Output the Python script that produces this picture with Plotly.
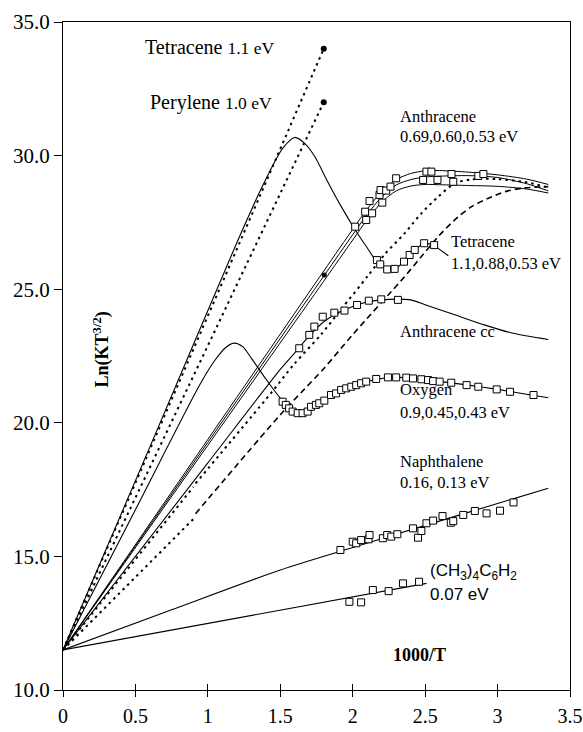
import plotly.graph_objects as go

# ---------------- data ----------------
tet_line_x = [0.0, 1.8]
tet_line_y = [11.5, 34.0]
per_line_x = [0.0, 1.8]
per_line_y = [11.5, 32.0]

tet_curve_x = [0.0, 0.6, 1.2, 1.35, 1.45, 1.52, 1.6, 1.67, 1.74, 1.82, 1.92, 2.02, 2.1, 2.17, 2.23, 2.29, 2.35, 2.42, 2.49, 2.56]
tet_curve_y = [11.5, 19.1, 26.74, 28.55, 29.65, 30.3, 30.68, 30.45, 29.95, 29.1, 28.1, 27.2, 26.55, 26.0, 25.75, 25.74, 26.02, 26.42, 26.7, 26.66]
tet_sq_x = [2.167, 2.19, 2.238, 2.289, 2.354, 2.393, 2.428, 2.493, 2.562]
tet_sq_y = [26.09, 25.93, 25.74, 25.76, 26.03, 26.28, 26.47, 26.72, 26.65]
tet_leader_x = [2.566, 2.66]
tet_leader_y = [26.62, 26.25]

anth_x = [0.0, 1.0, 1.8, 2.0, 2.1, 2.2, 2.3, 2.4, 2.5, 2.6, 2.8, 3.0, 3.2, 3.35]
anth1_y = [11.5, 19.38, 25.68, 27.24, 28.0, 28.65, 29.1, 29.33, 29.43, 29.44, 29.38, 29.28, 29.12, 28.92]
anth2_y = [11.5, 19.27, 25.49, 27.04, 27.80, 28.45, 28.90, 29.10, 29.20, 29.23, 29.25, 29.18, 28.95, 28.68]
anth3_y = [11.5, 19.16, 25.30, 26.84, 27.60, 28.25, 28.68, 28.86, 28.92, 28.91, 28.88, 28.85, 28.75, 28.60]
anth_sq_x = [2.017, 2.093, 2.086, 2.134, 2.116, 2.204, 2.185, 2.192, 2.231, 2.261, 2.30, 2.486, 2.509, 2.543, 2.585, 2.682, 2.694, 2.867, 2.902]
anth_sq_y = [27.34, 27.59, 27.90, 27.84, 28.30, 28.24, 28.53, 28.71, 28.69, 28.84, 29.15, 29.09, 29.40, 29.40, 29.09, 29.31, 29.02, 29.24, 29.31]
anth_dot_x = [1.804]
anth_dot_y = [25.53]

cc_x = [0.0, 1.0, 1.5, 1.6, 1.7, 1.8, 1.9, 2.0, 2.1, 2.2, 2.3, 2.4, 2.5, 2.7, 2.9, 3.1, 3.35]
cc_y = [11.5, 18.5, 22.0, 22.62, 23.25, 23.78, 24.12, 24.35, 24.52, 24.6, 24.63, 24.6, 24.42, 24.05, 23.68, 23.36, 23.12]
cc_sq_x = [1.631, 1.70, 1.735, 1.793, 1.873, 1.943, 2.03, 2.111, 2.197, 2.312]
cc_sq_y = [22.79, 23.29, 23.60, 23.97, 24.12, 24.20, 24.41, 24.57, 24.62, 24.60]

oxy_x = [0.0, 0.5, 0.95, 1.05, 1.12, 1.18, 1.24, 1.3, 1.39, 1.5, 1.56, 1.62, 1.67, 1.72, 1.8, 1.9, 2.0, 2.1, 2.2, 2.3, 2.4, 2.5, 2.6, 2.8, 3.0, 3.2, 3.35]
oxy_y = [11.5, 16.75, 21.48, 22.35, 22.8, 22.98, 22.85, 22.42, 21.72, 20.92, 20.6, 20.4, 20.37, 20.48, 20.82, 21.14, 21.37, 21.54, 21.66, 21.7, 21.68, 21.62, 21.55, 21.41, 21.25, 21.07, 20.94]
oxy_sq_x = [1.516, 1.538, 1.561, 1.585, 1.620, 1.654, 1.689, 1.712, 1.746, 1.769, 1.804, 1.850, 1.885, 1.920, 1.955, 1.990, 2.024, 2.058, 2.093,
            2.162, 2.243, 2.30, 2.37, 2.416, 2.474, 2.52, 2.555, 2.60, 2.68, 2.786, 2.867, 2.994, 3.086, 3.248]
oxy_sq_y = [20.79, 20.67, 20.54, 20.42, 20.36, 20.36, 20.42, 20.60, 20.67, 20.73, 20.83, 21.04, 21.10, 21.23, 21.29, 21.35, 21.41, 21.48, 21.54,
            21.64, 21.70, 21.70, 21.69, 21.66, 21.63, 21.60, 21.56, 21.54, 21.50, 21.41, 21.35, 21.25, 21.16, 21.04]

# model curves: dotted extrapolation from the origin, then the fitted part
d3a_x = [0.0, 0.9]
d3a_y = [11.5, 17.6]
d3_x = [0.915, 1.434, 1.596, 1.781, 1.92, 2.105, 2.22, 2.358, 2.474, 2.59, 2.705, 2.82, 3.0, 3.2, 3.35]
d3_y = [17.73, 21.1, 22.2, 23.3, 24.25, 25.5, 26.3, 27.09, 27.84, 28.46, 28.96, 29.11, 29.12, 29.0, 28.8]
d2a_x = [0.0, 0.9]
d2a_y = [11.5, 16.4]
d2_x = [0.915, 1.5, 1.665, 1.804, 2.0, 2.358, 2.474, 2.59, 2.728, 2.82, 2.936, 3.05, 3.167, 3.35]
d2_y = [16.6, 20.3, 21.25, 22.05, 23.3, 25.47, 26.22, 26.97, 27.71, 28.09, 28.40, 28.65, 28.78, 28.84]

nap_x = [0.0, 0.75, 1.5, 2.0, 2.5, 3.0, 3.35]
nap_y = [11.5, 13.0, 14.49, 15.33, 16.16, 16.98, 17.55]
nap_sq_x = [1.915, 2.0, 2.024, 2.058, 2.109, 2.116, 2.208, 2.238, 2.266, 2.308, 2.416, 2.451, 2.474, 2.509, 2.555, 2.62, 2.677, 2.694, 2.763, 2.843, 2.924, 3.017, 3.11]
nap_sq_y = [15.24, 15.55, 15.49, 15.61, 15.64, 15.80, 15.68, 15.80, 15.74, 15.83, 16.05, 15.70, 15.95, 16.24, 16.34, 16.51, 16.26, 16.32, 16.55, 16.70, 16.61, 16.71, 17.02]

tmb_x = [0.0, 2.509]
tmb_y = [11.5, 13.99]
tmb_sq_x = [1.977, 2.058, 2.139, 2.248, 2.347, 2.458]
tmb_sq_y = [13.30, 13.28, 13.74, 13.70, 13.99, 14.05]

x_ticks = [0, 0.5, 1, 1.5, 2, 2.5, 3, 3.5]
x_ticklabels = ["0", "0.5", "1", "1.5", "2", "2.5", "3", "3.5"]
y_ticks = [10, 15, 20, 25, 30, 35]
y_ticklabels = ["10.0", "15.0", "20.0", "25.0", "30.0", "35.0"]

# ---------------- figure ----------------
SERIF = "Liberation Serif"
SANS = "Liberation Sans"
fig = go.Figure()

def line(x, y, dash="solid", width=1.1, shape="spline"):
    ln = dict(color="black", width=width, dash=dash, shape=shape)
    if shape == "spline":
        ln["smoothing"] = 0.8
    fig.add_trace(go.Scatter(x=x, y=y, mode="lines", line=ln, hoverinfo="skip", showlegend=False))

def squares(x, y):
    fig.add_trace(go.Scatter(x=x, y=y, mode="markers",
                             marker=dict(symbol="square", size=7, color="white", line=dict(color="black", width=1)),
                             showlegend=False))

DOT = "2.5px,4px"
DASH = "6px,4px"

line(tet_line_x, tet_line_y, dash=DOT, width=2, shape="linear")
line(per_line_x, per_line_y, dash=DOT, width=2, shape="linear")
fig.add_trace(go.Scatter(x=[tet_line_x[-1], per_line_x[-1]], y=[tet_line_y[-1], per_line_y[-1]], mode="markers",
                         marker=dict(symbol="circle", size=6, color="black"), showlegend=False))

line(d3a_x, d3a_y, dash=DOT, width=2, shape="linear")
line(d3_x, d3_y, dash=DOT, width=2)
line(d2a_x, d2a_y, dash=DOT, width=2, shape="linear")
line(d2_x, d2_y, dash=DASH, width=1.6)

line(anth_x, anth1_y, width=1)
line(anth_x, anth2_y, width=1)
line(anth_x, anth3_y, width=1)
line(tet_curve_x, tet_curve_y)
line(cc_x, cc_y)
line(oxy_x, oxy_y)
line(nap_x, nap_y)
line(tmb_x, tmb_y, shape="linear")
line(tet_leader_x, tet_leader_y, shape="linear")

squares(anth_sq_x, anth_sq_y)
squares(tet_sq_x, tet_sq_y)
squares(cc_sq_x, cc_sq_y)
squares(oxy_sq_x, oxy_sq_y)
squares(nap_sq_x, nap_sq_y)
squares(tmb_sq_x, tmb_sq_y)
fig.add_trace(go.Scatter(x=anth_dot_x, y=anth_dot_y, mode="markers",
                         marker=dict(symbol="circle", size=5, color="black"), showlegend=False))

# ---------------- annotations ----------------
def txt(x, y, s, size=16.5, font=SERIF, xanchor="left", **kw):
    fig.add_annotation(x=x, y=y, text=s, showarrow=False, xanchor=xanchor, yanchor="middle",
                       font=dict(family=font, size=size, color="black"), **kw)

txt(0.554, 34.06, "Tetracene <span style='font-size:17.5px'>1.1 eV</span>", size=20)
txt(0.589, 31.97, "Perylene <span style='font-size:17.5px'>1.0 eV</span>", size=20)
txt(2.315, 31.48, "Anthracene")
txt(2.315, 30.70, "0.69,0.60,0.53 eV")
txt(2.668, 26.80, "Tetracene")
txt(2.668, 25.98, "1.1,0.88,0.53 eV")
txt(2.315, 23.40, "Anthracene cc")
txt(2.315, 21.23, "Oxygen")
txt(2.315, 20.37, "0.9,0.45,0.43 eV")
txt(2.315, 18.57, "Naphthalene")
txt(2.315, 17.75, "0.16, 0.13 eV")
txt(2.52, 14.42, "(CH<sub>3</sub>)<sub>4</sub>C<sub>6</sub>H<sub>2</sub>", size=17, font=SANS)
txt(2.52, 13.59, "0.07 eV", size=17, font=SANS)
txt(2.46, 11.3, "<b>1000/T</b>", size=18, xanchor="center")
fig.add_annotation(x=0.27, y=22.75, text="<b>Ln(KT<sup>3/2</sup>)</b>", showarrow=False, textangle=-90,
                   font=dict(family=SERIF, size=18, color="black"))

fig.update_layout(
    width=583, height=732,
    margin=dict(l=63, r=13, t=22, b=42, autoexpand=False),
    paper_bgcolor="white", plot_bgcolor="white",
    showlegend=False,
    xaxis=dict(range=[0, 3.5], tickvals=x_ticks, ticktext=x_ticklabels, ticks="outside", ticklen=6,
               tickcolor="black", showline=True, linecolor="black", linewidth=1.3, mirror=True,
               showgrid=False, zeroline=False, ticklabelstandoff=2, automargin=False,
               ticklabeloverflow="allow",
               tickfont=dict(family=SERIF, size=20, color="black")),
    xaxis2=dict(range=[0, 3.5], tickvals=x_ticks, ticks="inside", ticklen=6, tickcolor="black",
                showticklabels=False, overlaying="x", anchor="y", side="bottom", showgrid=False,
                zeroline=False, automargin=False),
    yaxis=dict(range=[10, 35], tickvals=y_ticks, ticktext=y_ticklabels, ticks="outside", ticklen=8,
               tickcolor="black", showline=True, linecolor="black", linewidth=1.3, mirror=True,
               showgrid=False, zeroline=False, automargin=False, ticklabeloverflow="allow",
               tickfont=dict(family=SERIF, size=21, color="black")),
)
fig.add_trace(go.Scatter(x=[0], y=[10], xaxis="x2", mode="markers", marker=dict(opacity=0), hoverinfo="skip", showlegend=False))

fig.write_html("out.html")
